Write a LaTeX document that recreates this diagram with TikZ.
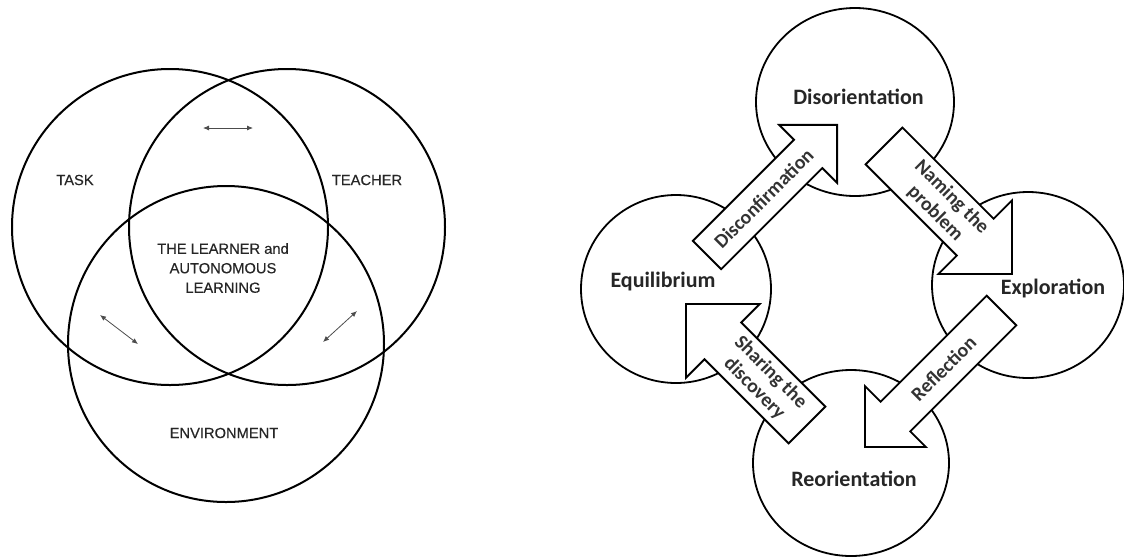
\documentclass[tikz,border=0pt]{standalone}
\usepackage{fontspec}
\newfontfamily\vennfont{Liberation Sans}[FakeBold=0.4]
\newfontfamily\cyclefont{Carlito}
\usetikzlibrary{shapes.geometric,arrows.meta}
\tikzset{
 venncircle/.style={circle,draw,line width=2pt,minimum size=316pt,inner sep=0pt},
 venntext/.style={font=\vennfont\fontsize{14.7}{19.5}\selectfont,text=black!85,align=center},
 smallarrow/.style={{Latex[length=6pt,width=5pt]}-{Latex[length=6pt,width=5pt]},line width=0.8pt,black!70},
 stage/.style={circle,draw,line width=1.8pt,fill=white,inner sep=0pt},
 stagetext/.style={font=\cyclefont\bfseries\fontsize{22}{24}\selectfont,text=black!85},
 arrowtext/.style={font=\cyclefont\bfseries\fontsize{19.8}{23}\selectfont,text=black!80,align=center},
 blockarrow/.style={draw,line width=1.8pt,fill=white,line join=miter}
}
% #1 name, #2 tail, #3 angle, #4 length, #5 half shaft, #6 half head, #7 text pos, #8 text rotation, #9 text
\newcommand\cyclearrow[9]{%
 \begin{scope}[shift={#2},rotate=#3]
  \draw[blockarrow] (0,#5) -- ({#4-#6},#5) -- ({#4-#6},#6) -- (#4,0) coordinate (#1-tip)
    -- ({#4-#6},-#6) -- ({#4-#6},-#5) -- (0,-#5) -- cycle;
  \node[arrowtext,rotate=#8] (#1) at (#7,0) {#9};
 \end{scope}}
\begin{document}
\begin{tikzpicture}[x=1pt,y=-1pt]
\useasboundingbox (0,0) rectangle (1124,558);
% ---- Venn diagram ----
\node[venncircle] (task) at (170,227) {};
\node[venncircle] (teacher) at (287,227) {};
\node[venncircle] (env) at (226,344) {};
\node[venntext] (tasklbl) at (75,180) {TASK};
\node[venntext] (teacherlbl) at (367,180) {TEACHER};
\node[venntext] (envlbl) at (224,433) {ENVIRONMENT};
\node[venntext] (learner) at (223,268) {THE LEARNER and\\AUTONOMOUS\\LEARNING};
\coordinate (t1) at (203,128); \coordinate (t2) at (253,128);
\coordinate (l1) at (100,315); \coordinate (l2) at (138,344);
\coordinate (r1) at (323,342); \coordinate (r2) at (357,311);
\draw[smallarrow] (t1) -- (t2);
\draw[smallarrow] (l1) -- (l2);
\draw[smallarrow] (r1) -- (r2);
% ---- Cycle ----
\node[stage,ellipse,minimum width=198pt,minimum height=188pt] (dis) at (855,102) {};
\node[stage,ellipse,minimum width=190pt,minimum height=188pt] (equ) at (676,289) {};
\node[stage,ellipse,minimum width=192pt,minimum height=186pt] (exp) at (1028,285) {};
\node[stage,ellipse,minimum width=196pt,minimum height=186pt] (reo) at (851,463) {};
\node[stagetext] (dislbl) at (858.5,96.5) {Disorientation};
\node[stagetext] (equlbl) at (663,282) {Equilibrium};
\node[stagetext] (explbl) at (1053,288) {Exploration};
\node[stagetext] (reolbl) at (854,478.5) {Reorientation};
\cyclearrow{disc}{(707,255)}{45}{184}{20}{41}{80}{45}{Disconfirmation}
\cyclearrow{naming}{(884,146)}{-45}{181}{26}{52}{84}{-45}{Naming the\\problem}
\cyclearrow{refl}{(1001.5,310.5)}{-135}{193}{21}{43}{82}{45}{Reflection}
\cyclearrow{share}{(807,425)}{135}{171}{26}{52}{63}{-45}{Sharing the\\discovery}
\end{tikzpicture}
\end{document}
